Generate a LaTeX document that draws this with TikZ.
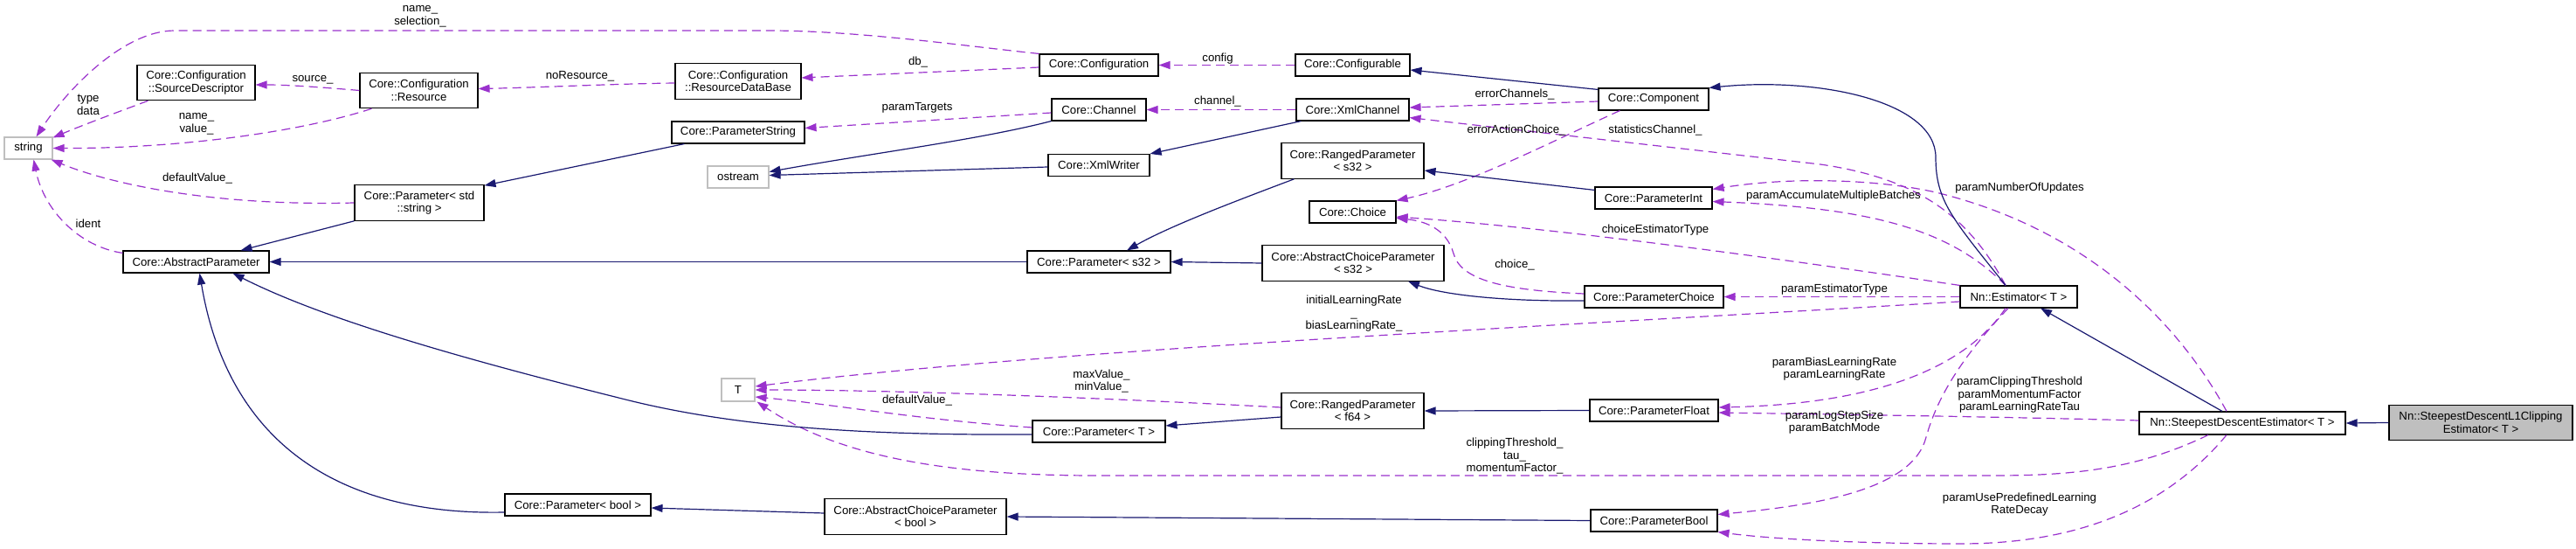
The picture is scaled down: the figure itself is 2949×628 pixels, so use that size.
\documentclass[tikz,border=0pt]{standalone}
\usepackage{fontspec}
\setmainfont{Liberation Sans}
\usetikzlibrary{arrows.meta}
\definecolor{usec}{HTML}{9A32CD}
\definecolor{inhc}{HTML}{191970}
\definecolor{grayb}{HTML}{BFBFBF}
\begin{document}
\begin{tikzpicture}[x=1pt,y=-1pt,
  font=\fontsize{13.2}{14.5}\selectfont,
  box/.style={draw=black, line width=1.1pt, fill=white, inner sep=0pt, align=center, minimum height=25pt},
  box2/.style={box, minimum height=40.5pt},
  graybox/.style={box, draw=grayb},
  usageedge/.style={draw=usec, line width=1.2pt, dash pattern=on 10pt off 6pt, -{Triangle[length=13pt,width=9pt]}},
  inhedge/.style={draw=inhc, line width=1.2pt, -{Triangle[length=13pt,width=9pt]}},
  lbl/.style={align=center, inner sep=0pt}]
\useasboundingbox (0,0) rectangle (2949,628);
% nodes
\node[graybox, minimum width=55pt] (str) at (32.5,169.5) {string};
\node[box2, minimum width=135pt] (srcdesc) at (224.5,94.5) {Core::Configuration\\::SourceDescriptor};
\node[box2, minimum width=135pt] (res) at (479.5,103.5) {Core::Configuration\\::Resource};
\node[box2, minimum width=148pt] (pstr) at (480,232) {Core::Parameter< std\\::string >};
\node[box, minimum width=167pt] (absp) at (224.5,299.5) {Core::AbstractParameter};
\node[box2, minimum width=144pt] (rdb) at (845,93) {Core::Configuration\\::ResourceDataBase};
\node[box, minimum width=152pt] (pstring) at (845,151.5) {Core::ParameterString};
\node[graybox, minimum width=70pt] (ostream) at (845,202.5) {ostream};
\node[graybox, minimum width=38pt, minimum height=26pt] (T) at (845,446) {T};
\node[box, minimum width=167pt] (pbool) at (661.5,577.5) {Core::Parameter< bool >};
\node[box, minimum width=136pt] (conf) at (1258,74.5) {Core::Configuration};
\node[box, minimum width=108pt] (chan) at (1258,125.5) {Core::Channel};
\node[box, minimum width=116pt] (xmlw) at (1258,189) {Core::XmlWriter};
\node[box, minimum width=164pt] (ps32) at (1258,299.5) {Core::Parameter< s32 >};
\node[box, minimum width=152pt] (pT) at (1258,493.5) {Core::Parameter< T >};
\node[box2, minimum width=208pt] (acpb) at (1048,591) {Core::AbstractChoiceParameter\\< bool >};
\node[box, minimum width=131pt] (cfgbl) at (1548.5,74.5) {Core::Configurable};
\node[box, minimum width=129pt] (xmlc) at (1548.5,125.5) {Core::XmlChannel};
\node[box2, minimum width=163pt] (rps32) at (1548.5,184) {Core::RangedParameter\\< s32 >};
\node[box, minimum width=99pt] (choice) at (1548.5,242.5) {Core::Choice};
\node[box2, minimum width=208pt] (acps32) at (1549,301) {Core::AbstractChoiceParameter\\< s32 >};
\node[box2, minimum width=163pt] (rpf64) at (1548.5,470) {Core::RangedParameter\\< f64 >};
\node[box, minimum width=126pt] (comp) at (1893,113.5) {Core::Component};
\node[box, minimum width=134pt] (pint) at (1893,226.5) {Core::ParameterInt};
\node[box, minimum width=159pt] (pchoice) at (1893.5,339.5) {Core::ParameterChoice};
\node[box, minimum width=147pt] (pfloat) at (1893.5,469.5) {Core::ParameterFloat};
\node[box, minimum width=145pt] (pboolp) at (1893.5,595.5) {Core::ParameterBool};
\node[box, minimum width=134pt] (est) at (2311,339.5) {Nn::Estimator< T >};
\node[box, minimum width=236pt, minimum height=26pt] (sde) at (2567,484) {Nn::SteepestDescentEstimator< T >};
\node[box2, minimum width=210pt, fill=grayb] (l1) at (2840,483.5) {Nn::SteepestDescentL1Clipping\\Estimator< T >};
% usage edges
\draw[usageedge] (conf.north west) .. controls (1100,52) and (980,35) .. (880,35) -- (200,35) .. controls (140,35) and (75,105) .. ([xshift=9pt]str.north);
\node[lbl] at (481,19) {name\_\\selection\_};
\draw[usageedge] ([xshift=13pt]srcdesc.south west) .. controls (130,130) and (95,143) .. ([yshift=-1pt]str.north east);
\node[lbl] at (101,120) {type\\data};
\draw[usageedge] ([xshift=14pt]res.south west) .. controls (340,152) and (200,170) .. (str.east);
\node[lbl] at (225,142) {name\_\\value\_};
\draw[usageedge] (pstr.west) .. controls (250,236) and (130,212) .. ([xshift=-2pt]str.south east);
\node[lbl] at (226,204) {defaultValue\_};
\draw[usageedge] ([yshift=-3pt]absp.north west) .. controls (90,282) and (50,240) .. ([xshift=6pt]str.south);
\node[lbl] at (101,256) {ident};
\draw[usageedge] (res.west) .. controls (370,100) and (330,97) .. ([yshift=-2.5pt]srcdesc.east);
\node[lbl] at (358,91) {source\_};
\draw[usageedge] ([yshift=-2pt]rdb.west) .. controls (700,96) and (620,100) .. ([yshift=2pt]res.east);
\node[lbl] at (664,87) {noResource\_};
\draw[usageedge] ([yshift=-2.5pt]conf.west) -- ([yshift=4pt]rdb.east);
\node[lbl] at (1051,71) {db\_};
\draw[usageedge] (cfgbl.west) -- (conf.east);
\node[lbl] at (1394,67) {config};
\draw[usageedge] ([yshift=-3.5pt]chan.west) -- ([yshift=5pt]pstring.east);
\node[lbl] at (1050,123) {paramTargets};
\draw[usageedge] (xmlc.west) -- (chan.east);
\node[lbl] at (1394,116) {channel\_};
\draw[usageedge] ([yshift=-2.5pt]comp.west) -- ([yshift=2.5pt]xmlc.east);
\node[lbl] at (1734,108) {errorChannels\_};
\draw[usageedge] ([xshift=-15pt]est.north) .. controls (2255,250) and (2200,205) .. (2084,188) -- ([yshift=4pt]xmlc.south east);
\node[lbl] at (1895,149) {statisticsChannel\_};
\draw[usageedge] ([xshift=-15pt]est.north) .. controls (2235,265) and (2150,238) .. ([yshift=-4pt]pint.east);
\node[lbl] at (2099,224) {paramAccumulateMultipleBatches};
\draw[usageedge] ([xshift=-18pt]sde.north) .. controls (2500,380) and (2400,265) .. (2216,220) .. controls (2150,205) and (2050,202) .. ([yshift=-3pt]pint.north east);
\node[lbl] at (2312,215) {paramNumberOfUpdates};
\draw[usageedge] (est.north west) .. controls (2100,305) and (1800,262) .. ([yshift=-5.5pt]choice.east);
\node[lbl] at (1895,263) {choiceEstimatorType};
\draw[usageedge] ([xshift=25pt]comp.south west) .. controls (1780,160) and (1680,212) .. (choice.north east);
\node[lbl] at (1736,149) {errorActionChoice\_};
\draw[usageedge] ([yshift=3.5pt]pchoice.west) .. controls (1720,332) and (1672,320) .. (1664,290) .. controls (1656,262) and (1632,253) .. ([yshift=-7pt]choice.east);
\node[lbl] at (1734,303) {choice\_};
\draw[usageedge] (est.west) -- (pchoice.east);
\node[lbl] at (2100,331) {paramEstimatorType};
\draw[usageedge] ([yshift=-5.5pt]est.west) .. controls (1800,372) and (1200,400) .. ([yshift=4pt]T.east);
\node[lbl] at (1550,359) {initialLearningRate\\\_\\biasLearningRate\_};
\draw[usageedge] ([yshift=4pt]rpf64.west) .. controls (1200,452) and (1000,446) .. (T.east);
\node[lbl] at (1261,436) {maxValue\_\\minValue\_};
\draw[usageedge] ([yshift=4.5pt]pT.west) .. controls (1050,480) and (950,462) .. ([yshift=-8pt]T.east);
\node[lbl] at (1050,458) {defaultValue\_};
\draw[usageedge] ([xshift=-39pt]sde.south) .. controls (2450,535) and (2380,544) .. (2284,544) -- (1255,544) .. controls (1060,544) and (950,515) .. ([xshift=2pt]T.south east);
\node[lbl] at (1734,522) {clippingThreshold\_\\tau\_\\momentumFactor\_};
\draw[usageedge] ([yshift=3pt]sde.west) .. controls (2300,477) and (2100,474) .. ([yshift=-2.5pt]pfloat.east);
\node[lbl] at (2312,452) {paramClippingThreshold\\paramMomentumFactor\\paramLearningRateTau};
\draw[usageedge] ([xshift=-15pt]est.south) .. controls (2250,420) and (2150,462) .. ([yshift=3.5pt]pfloat.east);
\node[lbl] at (2100,422) {paramBiasLearningRate\\paramLearningRate};
\draw[usageedge] ([xshift=-12pt]est.south) .. controls (2235,420) and (2215,465) .. (2205,500) .. controls (2190,560) and (2080,578) .. ([yshift=7pt]pboolp.east);
\node[lbl] at (2100,483) {paramLogStepSize\\paramBatchMode};
\draw[usageedge] ([xshift=-18pt]sde.south) .. controls (2480,580) and (2380,622) .. (2244,622) .. controls (2150,622) and (2040,618) .. (pboolp.south east);
\node[lbl] at (2312,577) {paramUsePredefinedLearning\\RateDecay};
% inheritance edges
\draw[inhedge] ([yshift=-2pt]comp.north west) -- ([yshift=-5.5pt]cfgbl.east);
\draw[inhedge] ([xshift=-15pt]est.north) .. controls (2235,250) and (2216,230) .. (2216,180) .. controls (2216,115) and (2080,88) .. (comp.north east);
\draw[inhedge] ([xshift=-23pt]sde.north) -- ([xshift=25pt]est.south);
\draw[inhedge] (l1.west) -- (sde.east);
\draw[inhedge] ([xshift=6pt]xmlc.south west) -- (xmlw.north east);
\draw[inhedge] ([yshift=-2pt]xmlw.west) -- ([yshift=2pt]ostream.east);
\draw[inhedge] (chan.south west) .. controls (1120,160) and (1000,175) .. ([yshift=6pt]ostream.east);
\draw[inhedge] ([xshift=15pt]pstring.south west) -- ([yshift=-1pt]pstr.north east);
\draw[inhedge] (pstr.south west) -- ([xshift=51pt]absp.north);
\draw[inhedge] (ps32.west) -- (absp.east);
\draw[inhedge] ([xshift=15pt]rps32.south west) .. controls (1420,228) and (1340,258) .. ([xshift=32pt]ps32.north);
\draw[inhedge] (acps32.west) -- (ps32.east);
\draw[inhedge] ([yshift=-4pt]pint.north west) -- ([yshift=-11pt]rps32.east);
\draw[inhedge] ([yshift=-4.5pt]pchoice.west) .. controls (1720,345) and (1650,337) .. ([xshift=63pt]acps32.south);
\draw[inhedge] (pfloat.west) -- (rpf64.east);
\draw[inhedge] ([yshift=-7pt]rpf64.west) -- ([yshift=6.5pt]pT.east);
\draw[inhedge] ([yshift=-3.5pt]pT.west) .. controls (1000,498) and (850,490) .. (720,458) .. controls (560,418) and (380,370) .. ([xshift=42pt]absp.south);
\draw[inhedge] ([yshift=-8.5pt]pbool.west) .. controls (380,590) and (260,500) .. ([xshift=4pt]absp.south);
\draw[inhedge] ([yshift=4pt]acpb.west) -- ([yshift=-3.5pt]pbool.east);
\draw[inhedge] (pboolp.west) -- (acpb.east);
\end{tikzpicture}
\end{document}
